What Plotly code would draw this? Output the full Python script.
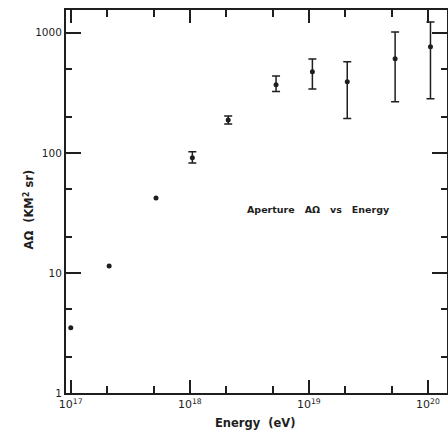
import plotly.graph_objects as go

energy_ev = [1.0e17, 2.1e17, 5.2e17, 1.05e18, 2.1e18, 5.3e18, 1.07e19, 2.1e19, 5.3e19, 1.05e20]
aperture = [3.5, 11.4, 42, 91, 188, 369, 473, 391, 607, 766]
err_upper = [None, None, None, 102, 203, 437, 604, 573, 1017, 1230]
err_lower = [None, None, None, 82.5, 174, 324, 340, 193, 266, 282]

x_major = [1e17, 1e18, 1e19, 1e20]
x_major_text = ["10<sup>17</sup>", "10<sup>18</sup>", "10<sup>19</sup>", "10<sup>20</sup>"]
y_major = [1, 10, 100, 1000]
y_major_text = ["1", "10", "100", "1000"]
minor_mult = [2, 5]

idx_plain = [i for i, u in enumerate(err_upper) if u is None]
idx_err = [i for i, u in enumerate(err_upper) if u is not None]

x_minor = [m * d for d in [1e16, 1e17, 1e18, 1e19, 1e20] for m in minor_mult]
y_minor = [m * d for d in [0.1, 1, 10, 100, 1000] for m in minor_mult]

ink = "#1e1e1e"
fig = go.Figure()
fig.add_trace(go.Scatter(
    x=[energy_ev[i] for i in idx_plain], y=[aperture[i] for i in idx_plain], mode="markers",
    marker=dict(color=ink, size=5), showlegend=False,
))
fig.add_trace(go.Scatter(
    x=[energy_ev[i] for i in idx_err], y=[aperture[i] for i in idx_err], mode="markers",
    marker=dict(color=ink, size=5),
    error_y=dict(type="data", symmetric=False,
                 array=[err_upper[i] - aperture[i] for i in idx_err],
                 arrayminus=[aperture[i] - err_lower[i] for i in idx_err],
                 color=ink, thickness=1.5, width=4),
    showlegend=False,
))

axis_common = dict(
    showgrid=False, zeroline=False, showline=True, linecolor=ink, linewidth=2,
    ticks="inside", tickcolor=ink, tickwidth=1.5, mirror="allticks", automargin=False,
)
fig.update_xaxes(type="log", range=[16.96, 20.16], tickvals=x_major, ticktext=x_major_text,
                 ticklen=13, minor=dict(tickvals=x_minor, ticklen=7, ticks="inside", tickcolor=ink, tickwidth=1.5),
                 tickfont=dict(family="DejaVu Sans", size=11, color=ink), **axis_common)
fig.update_yaxes(type="log", range=[0, 3.19], tickvals=y_major, ticktext=y_major_text,
                 ticklen=15, minor=dict(tickvals=y_minor, ticklen=6, ticks="inside", tickcolor=ink, tickwidth=1.5),
                 tickfont=dict(family="DejaVu Sans", size=10.5, color=ink), **axis_common)

fig.add_annotation(text="<b>Aperture   AΩ   vs   Energy</b>", xref="paper", yref="paper",
                   x=(318 - 66) / 381, y=(393 - 210) / 383, showarrow=False,
                   font=dict(family="DejaVu Sans", size=9.5, color=ink))
fig.add_annotation(text="<b>Energy  (eV)</b>", xref="paper", yref="paper",
                   x=(255 - 66) / 381, y=(393 - 432) / 383, showarrow=False,
                   font=dict(family="DejaVu Sans", size=11.5, color=ink))
fig.add_annotation(text="<b>AΩ  (KM<sup>2</sup> sr)</b>", xref="paper", yref="paper",
                   x=(20 - 66) / 381, y=(393 - 210) / 383, showarrow=False, textangle=-90,
                   font=dict(family="DejaVu Sans", size=11.5, color=ink))

fig.update_layout(width=448, height=445, margin=dict(l=66, r=1, t=10, b=52),
                  paper_bgcolor="white", plot_bgcolor="white")
fig.write_html("out.html", config={"displayModeBar": False},
               post_script="document.body.style.margin='0';")
